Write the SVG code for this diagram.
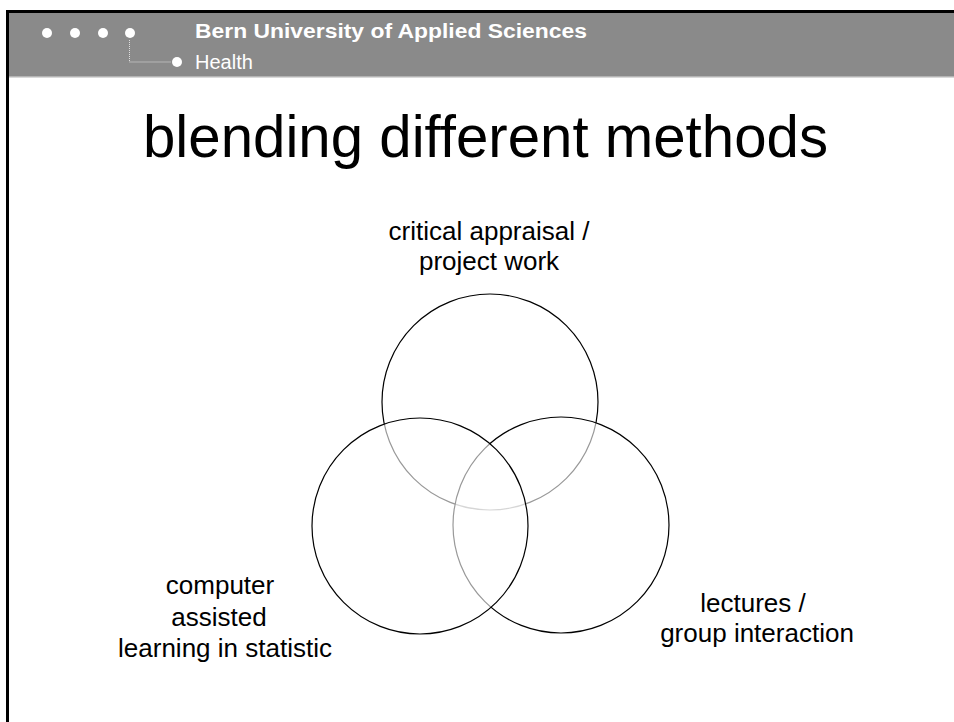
<svg xmlns="http://www.w3.org/2000/svg" width="954" height="722" viewBox="0 0 954 722">
<style>
.lbl{font-family:"Liberation Sans",Arial,sans-serif;font-size:26px;fill:#000;text-anchor:middle}
.ring{fill:#fff;fill-opacity:0.6;stroke:#000;stroke-width:1.2}
.dot{fill:#fff}
</style>
<rect x="0" y="0" width="954" height="722" fill="#fff"/>
<g id="header">
<rect x="7" y="12" width="947" height="64" fill="#8a8a8a"/>
<rect x="7" y="76" width="947" height="1.5" fill="#b4b4b4"/>
<line x1="6" y1="11.5" x2="954" y2="11.5" stroke="#000" stroke-width="3"/>
<line x1="7.5" y1="10" x2="7.5" y2="722" stroke="#000" stroke-width="3"/>
<circle class="dot" cx="47" cy="33" r="5"/>
<circle class="dot" cx="75" cy="33" r="5"/>
<circle class="dot" cx="103" cy="33" r="5"/>
<circle class="dot" cx="130" cy="33" r="5"/>
<path d="M129.5 40 V62 H171" fill="none" stroke="#e0e0e0" stroke-width="1" stroke-dasharray="1 1"/>
<circle class="dot" cx="177" cy="62" r="5"/>
<text x="195" y="38" font-family="Liberation Sans,Arial,sans-serif" font-weight="bold" font-size="19.5" fill="#fff" textLength="392" lengthAdjust="spacingAndGlyphs">Bern University of Applied Sciences</text>
<text x="195" y="69" font-family="Liberation Sans,Arial,sans-serif" font-size="20" fill="#fff">Health</text>
</g>
<text id="title" x="143" y="157" font-family="Liberation Sans,Arial,sans-serif" font-size="60" fill="#000" textLength="685" lengthAdjust="spacingAndGlyphs">blending different methods</text>
<g id="node-critical">
<circle class="ring" cx="490" cy="402" r="108"/>
<text class="lbl" x="489" y="240">critical appraisal /</text>
<text class="lbl" x="489" y="270">project work</text>
</g>
<g id="node-lectures">
<circle class="ring" cx="561" cy="525" r="108"/>
<text class="lbl" x="753" y="612">lectures /</text>
<text class="lbl" x="757" y="642">group interaction</text>
</g>
<g id="node-computer">
<circle class="ring" cx="420" cy="526" r="108"/>
<text class="lbl" x="220" y="594">computer</text>
<text class="lbl" x="219" y="626">assisted</text>
<text class="lbl" x="225" y="657">learning in statistic</text>
</g>
</svg>
